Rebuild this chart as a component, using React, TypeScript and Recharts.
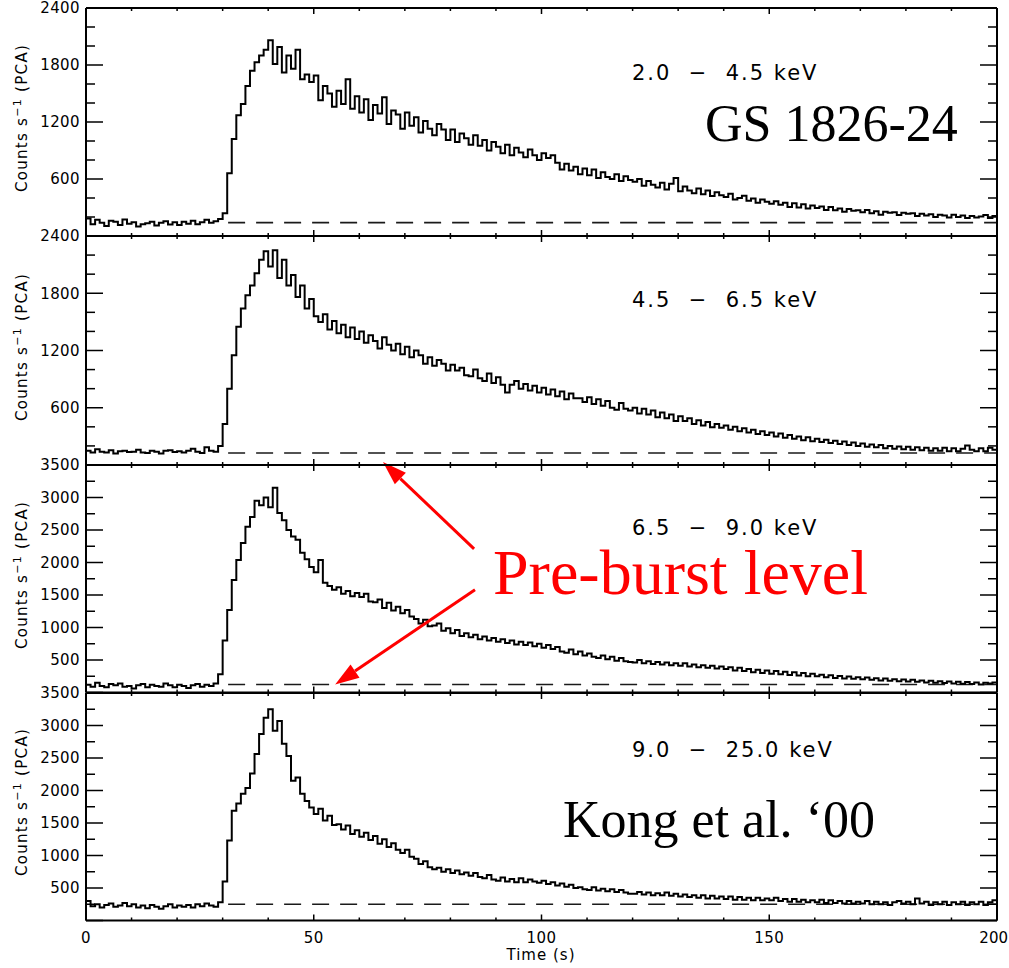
import React from "react";
import { LineChart, Line, XAxis, YAxis, ReferenceLine } from "recharts";

// time axis (s)
const TIME_TICKS = [0, 10, 20, 30, 40, 50, 60, 70, 80, 90, 100, 110, 120, 130, 140, 150, 160, 170, 180, 190, 200];
const TIME_MAJOR = [0, 50, 100, 150, 200];

// count axes
const Y_TICKS_2400 = [0, 200, 400, 600, 800, 1000, 1200, 1400, 1600, 1800, 2000, 2200, 2400];
const Y_MAJOR_2400 = [0, 600, 1200, 1800, 2400];
const Y_TICKS_3500 = [0, 250, 500, 750, 1000, 1250, 1500, 1750, 2000, 2250, 2500, 2750, 3000, 3250, 3500];
const Y_MAJOR_3500 = [0, 500, 1000, 1500, 2000, 2500, 3000, 3500];

const BAND_LABELS = ["2.0  −  4.5 keV", "4.5  −  6.5 keV", "6.5  −  9.0 keV", "9.0  −  25.0 keV"];
const PRE_BURST = [141, 126, 123, 250];
const PRE_BURST_START = 31.2;

// 1 s bins, t = 0 .. 199
const COUNTS_2_45 = [
  185, 125, 170, 140, 105, 160, 150, 115, 175, 130,
  145, 100, 125, 135, 150, 110, 140, 155, 120, 145,
  115, 150, 130, 160, 125, 145, 170, 140, 155, 180,
  240, 660, 1020, 1270, 1390, 1580, 1740, 1830, 1900, 1960,
  2060, 1810, 1990, 1720, 1900, 1760, 1960, 1650, 1700, 1620,
  1690, 1430, 1580, 1500, 1360, 1530, 1390, 1650, 1340, 1470,
  1300, 1440, 1220, 1380, 1290, 1460, 1180, 1320, 1280, 1130,
  1300, 1160, 1250, 1090, 1210, 1130, 1060, 1180, 1120, 1010,
  1120, 990, 1080, 1030, 960, 1060, 950, 1010, 900, 990,
  940, 870, 960, 850, 930, 880, 830, 910, 850, 800,
  870, 820, 850, 770, 700, 760, 690, 730, 650, 710,
  640, 700, 610, 670, 620, 600, 650, 580, 630, 590,
  570, 600, 530, 580, 540, 510, 560, 490, 550, 610,
  470, 520, 480, 450, 500, 440, 480, 420, 460, 430,
  410, 445, 385, 400, 425, 370, 395, 350, 385, 360,
  340, 365, 330, 350, 305, 345, 300, 335, 290, 320,
  295, 310, 275, 305, 270, 290, 255, 285, 265, 270,
  250, 275, 240, 260, 225, 255, 245, 250, 220, 245,
  235, 240, 210, 235, 215, 230, 200, 225, 215, 195,
  225, 200, 215, 190, 210, 195, 205, 220, 190, 210,
];

const COUNTS_45_65 = [
  150, 130, 165, 140, 130, 155, 120, 145, 150, 135,
  140, 160, 130, 125, 150, 140, 120, 150, 155, 135,
  145, 130, 150, 170, 140, 125, 185, 150, 140, 200,
  430, 800, 1150, 1450, 1640, 1780, 1880, 2010, 2150, 2240,
  2080, 2250, 1960, 2150, 1880, 1990, 1760, 1880, 1640, 1740,
  1560, 1500, 1580, 1420, 1510, 1380, 1470, 1340, 1440, 1320,
  1400, 1280, 1360, 1300, 1220, 1340, 1260, 1200, 1270, 1160,
  1240, 1130, 1200, 1150, 1060, 1130, 1040, 1100, 1060, 990,
  1050, 990, 1020, 940, 930, 1000, 910, 880, 960, 860,
  920, 840, 760, 840, 880, 800, 850, 780, 830, 760,
  810, 740, 790, 720, 770, 690, 750, 700, 700, 660,
  710, 640, 690, 620, 670, 600, 580, 650, 590, 570,
  600, 540, 590, 530, 570, 500, 550, 490, 530, 460,
  510, 460, 490, 430, 470, 415, 450, 395, 430, 390,
  415, 370, 400, 355, 385, 340, 370, 325, 355, 315,
  340, 300, 330, 285, 315, 275, 300, 260, 290, 250,
  275, 240, 265, 230, 255, 220, 245, 210, 235, 200,
  225, 190, 215, 185, 210, 175, 200, 170, 195, 165,
  190, 160, 185, 155, 180, 150, 175, 150, 180, 145,
  175, 145, 170, 205, 160, 145, 175, 145, 180, 160,
];

const COUNTS_65_90 = [
  120, 90, 150, 100, 80, 130, 110, 140, 90, 100,
  60, 110, 130, 80, 120, 100, 90, 140, 110, 80,
  120, 100, 70, 110, 130, 90, 120, 100, 140, 280,
  800, 1270, 1730, 2040, 2300, 2550, 2700, 2950, 2880, 3000,
  2850, 3150, 2760, 2650, 2500, 2400, 2350, 2150, 2050, 1930,
  1850, 2040, 1690, 1640, 1580, 1620, 1520, 1560, 1480, 1530,
  1470, 1520, 1400, 1390, 1430, 1300, 1380, 1260, 1320, 1220,
  1270, 1170, 1130, 1060, 1120, 1020, 1030, 1060, 950, 990,
  910, 960, 870, 910, 850, 890, 820, 860, 800, 840,
  780, 820, 760, 800, 740, 780, 730, 770, 710, 750,
  690, 730, 670, 700, 630, 610, 660, 590, 630, 570,
  600, 550, 530, 570, 510, 550, 490, 530, 480, 470,
  460, 500, 450, 480, 440, 470, 430, 460, 420, 450,
  410, 450, 400, 430, 390, 420, 380, 410, 370, 400,
  360, 390, 340, 380, 330, 360, 310, 350, 300, 340,
  290, 330, 280, 320, 270, 310, 260, 300, 250, 290,
  250, 275, 235, 265, 225, 255, 215, 245, 210, 235,
  205, 230, 195, 220, 185, 215, 180, 205, 175, 200,
  170, 195, 165, 185, 155, 180, 150, 175, 145, 170,
  140, 165, 135, 160, 130, 155, 125, 150, 140, 155,
];

const COUNTS_90_250 = [
  300, 220, 250, 200, 240, 260, 210, 230, 270, 220,
  250, 200, 230, 190, 240, 210, 180, 220, 250, 200,
  230, 210, 240, 200, 250, 220, 260, 230, 210, 280,
  600, 1230, 1690, 1800, 1950, 2040, 2260, 2560, 2870, 3120,
  3250, 2920, 3070, 2720, 2530, 2150, 2200, 1950, 1840, 1740,
  1640, 1720, 1540, 1610, 1470, 1480, 1400, 1460, 1330, 1390,
  1290, 1350, 1240, 1300, 1180, 1250, 1130, 1190, 1090, 1040,
  1090, 980, 950, 870, 910, 820, 790, 810, 750, 790,
  730, 770, 710, 740, 690, 730, 670, 650, 700, 630,
  610, 660, 600, 640, 590, 650, 590, 630, 600, 580,
  610, 560, 590, 540, 570, 520, 550, 500, 510, 480,
  470, 510, 460, 490, 450, 480, 440, 470, 430, 410,
  410, 440, 400, 430, 390, 420, 390, 430, 380, 410,
  370, 400, 360, 390, 350, 390, 340, 380, 340, 370,
  330, 370, 320, 360, 320, 350, 310, 350, 310, 340,
  310, 350, 300, 330, 290, 330, 290, 320, 280, 310,
  280, 320, 270, 310, 270, 300, 260, 300, 260, 290,
  260, 300, 250, 290, 250, 280, 240, 280, 300, 260,
  290, 250, 340, 260, 290, 240, 280, 250, 290, 240,
  280, 250, 290, 240, 280, 250, 290, 240, 280, 310,
];

// annotation arrows in 6.5-9.0 keV panel data coordinates: [tail, head]
const ARROWS = [
  [{ x: 85.2, y: 2210 }, { x: 65.2, y: 3546 }],
  [{ x: 85.4, y: 1580 }, { x: 54.7, y: 123 }],
];

const toRows = (arr: number[]) => [
  ...arr.map((c, i) => ({ t: i, c })),
  { t: 200, c: arr[arr.length - 1] },
];

const TICK_FONT = "'DejaVu Sans', sans-serif";

const ArrowShape = (p: any) => {
  const { x1, y1, x2, y2 } = p;
  const a = Math.atan2(y2 - y1, x2 - x1);
  const L = 24;
  const W = 8;
  const bx = x2 - L * Math.cos(a);
  const by = y2 - L * Math.sin(a);
  const pts = `${x2},${y2} ${bx - W * Math.sin(a)},${by + W * Math.cos(a)} ${bx + W * Math.sin(a)},${by - W * Math.cos(a)}`;
  return (
    <g>
      <line x1={x1} y1={y1} x2={bx} y2={by} stroke="#ff0000" strokeWidth={3} />
      <polygon points={pts} fill="#ff0000" />
    </g>
  );
};

type PanelProps = {
  counts: number[];
  top: number;
  height: number;
  yMax: number;
  yTicks: number[];
  yMajor: number[];
  pre: number;
  showX?: boolean;
  arrows?: typeof ARROWS;
};

function Panel({ counts, top, height, yMax, yTicks, yMajor, pre, showX, arrows }: PanelProps) {
  const data = toRows(counts);
  const mt = 24;
  const mb = 50;

  const leftTick = (p: any) => {
    const v = p.payload.value;
    const major = yMajor.includes(v);
    return (
      <g>
        <line x1={p.x} y1={p.y} x2={p.x + (major ? 17 : 9)} y2={p.y} stroke="#000" strokeWidth={1.5} />
        {major && v !== 0 && (
          <text x={p.x - 6} y={p.y} dy="0.36em" textAnchor="end" fontSize={15} letterSpacing={0.4}
            fontFamily={TICK_FONT} fill="#000">
            {v}
          </text>
        )}
      </g>
    );
  };
  const rightTick = (p: any) => {
    const major = yMajor.includes(p.payload.value);
    return <line x1={p.x} y1={p.y} x2={p.x - (major ? 17 : 9)} y2={p.y} stroke="#000" strokeWidth={1.5} />;
  };
  const bottomTick = (p: any) => {
    const v = p.payload.value;
    const major = TIME_MAJOR.includes(v);
    const last = v === 200;
    return (
      <g>
        <line x1={p.x} y1={p.y} x2={p.x} y2={p.y - (major ? 6 : 3)} stroke="#000" strokeWidth={1.5} />
        {showX && major && (
          <text x={last ? 1008 : p.x} y={p.y + 22} textAnchor={last ? "end" : "middle"} fontSize={15}
            letterSpacing={last ? 0 : 0.4} fontFamily={TICK_FONT} fill="#000">
            {v}
          </text>
        )}
      </g>
    );
  };
  const topTick = (p: any) => {
    const major = TIME_MAJOR.includes(p.payload.value);
    return <line x1={p.x} y1={p.y} x2={p.x} y2={p.y + (major ? 6 : 3)} stroke="#000" strokeWidth={1.5} />;
  };

  const axisLine = { stroke: "#000", strokeWidth: 2 };

  return (
    <div style={{ position: "absolute", left: 0, top: top - mt }}>
      <LineChart width={1009} height={mt + height + mb} data={data} margin={{ top: mt - 2, right: 10, bottom: mb - 2, left: 16 }}>
        <XAxis xAxisId="b" dataKey="t" type="number" domain={[0, 200]} ticks={TIME_TICKS} interval={0} allowDataOverflow
          height={2} tickSize={0} tickMargin={0} tickLine={false} axisLine={axisLine} tick={bottomTick} />
        <XAxis xAxisId="t" orientation="top" dataKey="t" type="number" domain={[0, 200]} ticks={TIME_TICKS} interval={0} allowDataOverflow
          height={2} tickSize={0} tickMargin={0} tickLine={false} axisLine={axisLine} tick={topTick} />
        <YAxis yAxisId="l" type="number" domain={[0, yMax]} ticks={yTicks} interval={0} allowDataOverflow
          width={70} tickSize={0} tickMargin={0} tickLine={false} axisLine={axisLine} tick={leftTick} />
        <YAxis yAxisId="r" orientation="right" type="number" domain={[0, yMax]} ticks={yTicks} interval={0} allowDataOverflow
          width={2} tickSize={0} tickMargin={0} tickLine={false} axisLine={axisLine} tick={rightTick} />
        <ReferenceLine xAxisId="b" yAxisId="l" segment={[{ x: PRE_BURST_START, y: pre }, { x: 200, y: pre }]}
          stroke="#1a1a1a" strokeWidth={1.6} strokeDasharray="17 11" />
        <Line xAxisId="t" yAxisId="r" dataKey="c" stroke="none" dot={false} isAnimationActive={false} />
        <Line xAxisId="b" yAxisId="l" type="stepAfter" dataKey="c" stroke="#000" strokeWidth={2} dot={false} isAnimationActive={false} />
        {arrows &&
          arrows.map((seg, i) => (
            <ReferenceLine key={i} xAxisId="b" yAxisId="l" segment={seg} ifOverflow="visible" shape={ArrowShape} />
          ))}
      </LineChart>
    </div>
  );
}

const PANELS = [
  { counts: COUNTS_2_45, top: 8, height: 228, yMax: 2400, yTicks: Y_TICKS_2400, yMajor: Y_MAJOR_2400 },
  { counts: COUNTS_45_65, top: 236, height: 229, yMax: 2400, yTicks: Y_TICKS_2400, yMajor: Y_MAJOR_2400 },
  { counts: COUNTS_65_90, top: 465, height: 227.5, yMax: 3500, yTicks: Y_TICKS_3500, yMajor: Y_MAJOR_3500 },
  { counts: COUNTS_90_250, top: 692.5, height: 227.5, yMax: 3500, yTicks: Y_TICKS_3500, yMajor: Y_MAJOR_3500 },
];

const LABEL_TOPS = [65, 292, 520, 742];

const serif = "'Liberation Serif', 'Times New Roman', serif";

export default function App() {
  return (
    <div style={{ position: "absolute", left: 0, top: 0, width: 1009, height: 968, background: "#fff", overflow: "hidden" }}>
      {PANELS.map((p, i) => (
        <Panel key={i} {...p} pre={PRE_BURST[i]} showX={i === 3} arrows={i === 2 ? ARROWS : undefined} />
      ))}

      {PANELS.map((p, i) => (
        <div key={"yl" + i} style={{
          position: "absolute", left: 22, top: p.top + p.height / 2 - 4,
          transform: "translate(-50%, -50%) rotate(-90deg)", whiteSpace: "nowrap",
          fontFamily: TICK_FONT, fontSize: 15, lineHeight: 1, letterSpacing: 1.3,
        }}>
          Counts s<sup style={{ fontSize: 11, lineHeight: 0, verticalAlign: "6px" }}>−1</sup> (PCA)
        </div>
      ))}

      {BAND_LABELS.map((t, i) => (
        <div key={"bl" + i} style={{
          position: "absolute", left: 632, top: LABEL_TOPS[i], whiteSpace: "pre",
          fontFamily: TICK_FONT, fontSize: 21, lineHeight: 0.85, letterSpacing: 2,
        }}>
          {t}
        </div>
      ))}

      <div style={{ position: "absolute", left: 541, top: 948, transform: "translateX(-50%)", whiteSpace: "nowrap",
        fontFamily: TICK_FONT, fontSize: 15, lineHeight: 1, letterSpacing: 1 }}>
        Time (s)
      </div>

      <div style={{ position: "absolute", left: 705, top: 98, fontFamily: serif, fontSize: 52, lineHeight: 1, whiteSpace: "nowrap" }}>
        GS 1826-24
      </div>
      <div style={{ position: "absolute", left: 493, top: 551, fontFamily: serif, fontSize: 64, lineHeight: 0.7, whiteSpace: "nowrap", color: "#ff0000" }}>
        Pre-burst level
      </div>
      <div style={{ position: "absolute", left: 563, top: 794, fontFamily: serif, fontSize: 52, lineHeight: 1, whiteSpace: "nowrap" }}>
        Kong et al. ‘00
      </div>
    </div>
  );
}
